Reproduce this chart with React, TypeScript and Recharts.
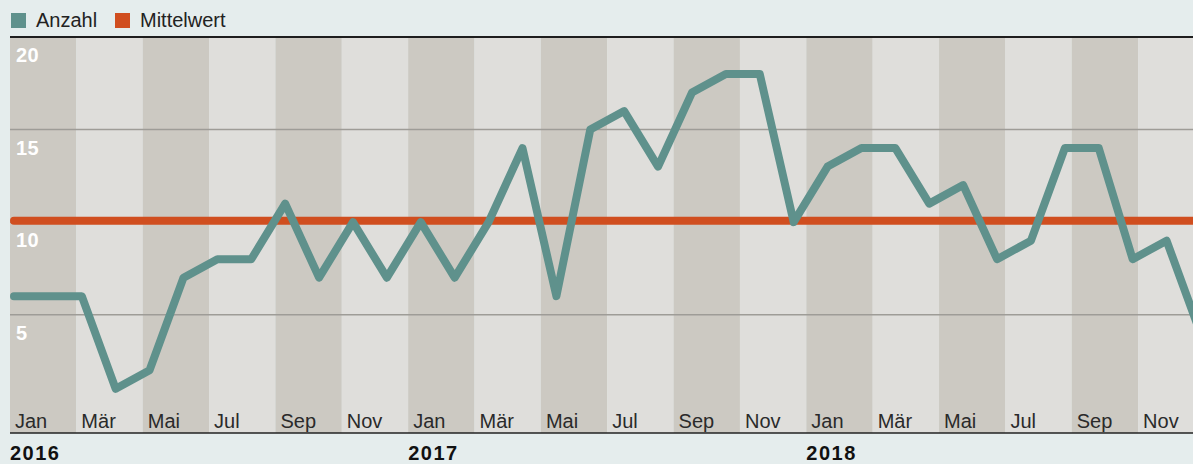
import {
  ComposedChart,
  Line,
  XAxis,
  YAxis,
  ReferenceArea,
  ReferenceLine,
} from "recharts";

const MONTHS = ["Jan", "Feb", "Mär", "Apr", "Mai", "Jun", "Jul", "Aug", "Sep", "Okt", "Nov", "Dez"];
const YEARS = [2016, 2017, 2018];

const ANZAHL_2016 = [6, 6, 6, 1, 2, 7, 8, 8, 11, 7, 10, 7];
const ANZAHL_2017 = [10, 7, 10, 14, 6, 15, 16, 13, 17, 18, 18, 10];
const ANZAHL_2018 = [13, 14, 14, 11, 12, 8, 9, 14, 14, 8, 9, 4];
const MITTELWERT = 10.08;

const Y_TICKS = [5, 10, 15, 20];

const BG = "#e5eded";
const BAND_DARK = "#ccc9c2";
const BAND_LIGHT = "#dfdedb";
const TEAL = "#5f918c";
const ORANGE = "#d04e1f";
const FONT = "'Liberation Sans', Arial, sans-serif";

const series = [ANZAHL_2016, ANZAHL_2017, ANZAHL_2018];
const data = YEARS.flatMap((year, yi) =>
  MONTHS.map((label, mi) => ({
    idx: yi * 12 + mi,
    label,
    year,
    anzahl: series[yi][mi],
  }))
);
const bandStarts = data.filter((d) => d.idx % 2 === 0).map((d) => d.idx);

function MonthTick(props: any) {
  const { x, y, payload } = props;
  const d = data[payload.value];
  if (!d) return null;
  return (
    <g>
      <text x={x + 5} y={y - 5} fill="#2a2a2a" fontSize={20} fontFamily={FONT}>
        {d.label}
      </text>
      {d.idx % 12 === 0 && (
        <text
          x={x}
          y={y + 27}
          fill="#111"
          fontSize={20}
          fontWeight="bold"
          letterSpacing={1.5}
          fontFamily={FONT}
        >
          {d.year}
        </text>
      )}
    </g>
  );
}

function valueLabel(value: number) {
  return (props: any) => {
    const vb = props.viewBox || {};
    return (
      <text
        x={(vb.x ?? 10) + 6}
        y={(vb.y ?? 0) + 25}
        fill="#fff"
        fontSize={20}
        fontWeight="bold"
        letterSpacing={0.5}
        fontFamily={FONT}
      >
        {value}
      </text>
    );
  };
}

function LegendItem({ color, label, left }: { color: string; label: string; left: number }) {
  return (
    <div style={{ position: "absolute", left, top: 8, display: "flex", alignItems: "center" }}>
      <div style={{ width: 15, height: 15, background: color, marginRight: 10 }} />
      <span style={{ fontFamily: FONT, fontSize: 20, color: "#222", lineHeight: "25px" }}>{label}</span>
    </div>
  );
}

export default function App() {
  return (
    <div
      style={{
        position: "absolute",
        left: 0,
        top: 0,
        width: 1193,
        height: 464,
        background: BG,
        overflow: "hidden",
      }}
    >
      <LegendItem color={TEAL} label="Anzahl" left={11} />
      <LegendItem color={ORANGE} label="Mittelwert" left={115} />
      <ComposedChart
        width={1193}
        height={464}
        data={data}
        margin={{ top: 37, right: 0, bottom: 0, left: 10 }}
      >
        <XAxis
          xAxisId="band"
          type="number"
          dataKey="idx"
          domain={[0, 35.654]}
          allowDataOverflow
          ticks={bandStarts}
          interval={0}
          height={31}
          tickSize={0}
          tickMargin={0}
          tick={<MonthTick />}
          axisLine={{ stroke: "#222", strokeWidth: 1.5 }}
          tickLine={false}
        />
        <XAxis
          xAxisId="line"
          type="number"
          dataKey="idx"
          domain={[-0.118, 34.78]}
          allowDataOverflow
          hide
        />
        <YAxis
          type="number"
          domain={[-1.39, 20]}
          allowDataOverflow
          ticks={Y_TICKS}
          width={0}
          axisLine={false}
          tickLine={false}
          tick={false}
        />
        {bandStarts.map((s, i) => (
          <ReferenceArea
            key={s}
            xAxisId="band"
            x1={s}
            x2={s + 2}
            y1={-1.39}
            y2={20}
            fill={i % 2 === 0 ? BAND_DARK : BAND_LIGHT}
            fillOpacity={1}
            stroke="none"
            ifOverflow="hidden"
          />
        ))}
        {Y_TICKS.slice(0, 3).map((t) => (
          <ReferenceLine
            key={t}
            xAxisId="band"
            y={t}
            stroke="#9e9c97"
            strokeWidth={1.5}
            label={valueLabel(t)}
          />
        ))}
        <ReferenceLine
          xAxisId="band"
          y={20}
          stroke="#1e1e1e"
          strokeWidth={2}
          ifOverflow="visible"
          label={valueLabel(20)}
        />
        <ReferenceLine
          xAxisId="line"
          segment={[
            { x: 0, y: MITTELWERT },
            { x: 35, y: MITTELWERT },
          ]}
          stroke={ORANGE}
          strokeWidth={8}
          strokeLinecap="round"
          ifOverflow="hidden"
        />
        <Line
          xAxisId="line"
          type="linear"
          dataKey="anzahl"
          stroke={TEAL}
          strokeWidth={8}
          strokeLinejoin="round"
          strokeLinecap="round"
          dot={false}
          activeDot={false}
          isAnimationActive={false}
        />
      </ComposedChart>
    </div>
  );
}
